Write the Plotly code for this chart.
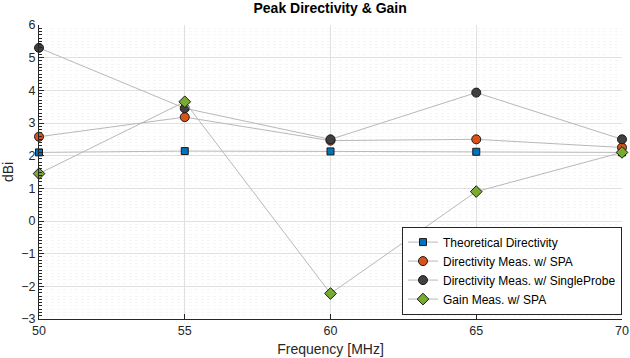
import plotly.graph_objects as go

freq = [50, 55, 60, 65, 70]
theoretical = [2.10, 2.14, 2.13, 2.12, 2.10]
dir_spa = [2.58, 3.18, 2.46, 2.50, 2.25]
dir_single = [5.30, 3.45, 2.50, 3.93, 2.50]
gain_spa = [1.45, 3.65, -2.22, 0.90, 2.10]

names = ["Theoretical Directivity", "Directivity Meas. w/ SPA",
         "Directivity Meas. w/ SingleProbe", "Gain Meas. w/ SPA"]
series = [theoretical, dir_spa, dir_single, gain_spa]
colors = ["#0072BD", "#D95319", "#404040", "#77AC30"]
symbols = ["square", "circle", "circle", "diamond"]
sizes = [7, 9, 9, 9]

fig = go.Figure()
for n, s, c, sym, sz in zip(names, series, colors, symbols, sizes):
    fig.add_trace(go.Scatter(
        x=freq, y=s, name=n, mode="lines+markers",
        line=dict(color="#b8b8b8", width=1),
        marker=dict(symbol=sym, color=c, size=sz, line=dict(color="#1a1a1a", width=1)),
        cliponaxis=False,
    ))

axis_font = dict(family="Liberation Sans, Arial, sans-serif", size=12.5, color="#262626")
fig.update_layout(
    width=630, height=358,
    margin=dict(l=39, r=8, t=25, b=39),
    paper_bgcolor="white", plot_bgcolor="white",
    font=axis_font,
    title=dict(text="<b>Peak Directivity & Gain</b>", x=0.524, xanchor="center",
               y=0.99, yanchor="top", font=dict(size=14, color="#000000")),
    legend=dict(x=1, xanchor="right", y=0.015, yanchor="bottom",
                bordercolor="#262626", borderwidth=1, bgcolor="white",
                font=dict(size=12, color="#000000"), tracegroupgap=0,
                itemwidth=30),
    showlegend=True,
)
fig.update_xaxes(
    range=[50, 70], dtick=5, tick0=50, automargin=False,
    showline=True, linecolor="#262626", linewidth=1,
    ticks="inside", ticklen=5, tickcolor="#262626",
    showgrid=True, gridcolor="#e0e0e0", gridwidth=1,
    zeroline=False, mirror=False,
    title=dict(text="Frequency [MHz]", font=dict(size=14, color="#262626"), standoff=7),
)
fig.update_yaxes(
    range=[-3, 6], dtick=1, tick0=-3, automargin=False,
    showline=True, linecolor="#262626", linewidth=1,
    ticks="inside", ticklen=5, tickcolor="#262626",
    showgrid=True, gridcolor="#e0e0e0", gridwidth=1,
    minor=dict(dtick=0.1, ticks="inside", ticklen=3, tickcolor="#262626",
               showgrid=True, gridcolor="#f6f6f6", gridwidth=1, griddash="dot"),
    zeroline=False, mirror=False,
    title=dict(text="dBi", font=dict(size=14, color="#262626"), standoff=8),
)
fig.write_html("out.html", config={"displayModeBar": False},
               post_script="document.body.style.margin='0';")
